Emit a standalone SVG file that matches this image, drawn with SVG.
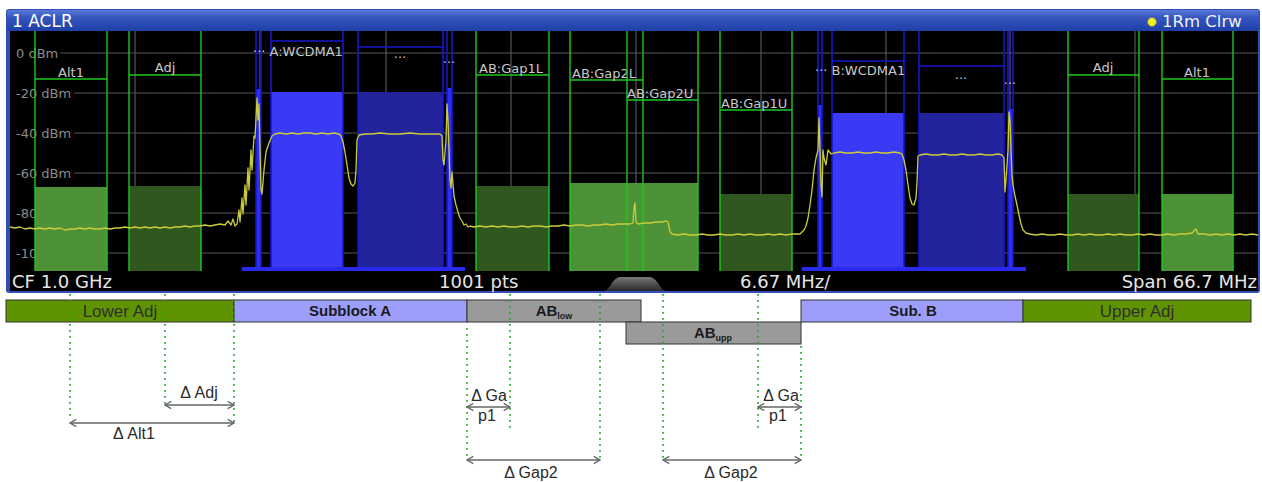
<svg xmlns="http://www.w3.org/2000/svg" width="1262" height="482" viewBox="0 0 1262 482">
<defs>
<linearGradient id="tb" x1="0" y1="0" x2="0" y2="1">
<stop offset="0" stop-color="#5a78d6"/><stop offset="0.35" stop-color="#3556c0"/><stop offset="1" stop-color="#1e3fa6"/>
</linearGradient>
<linearGradient id="hd" x1="0" y1="0" x2="0" y2="1">
<stop offset="0" stop-color="#777"/><stop offset="1" stop-color="#2a2a2a"/>
</linearGradient>
<marker id="ah" viewBox="0 0 10 10" refX="9" refY="5" markerWidth="9" markerHeight="9" orient="auto-start-reverse" markerUnits="userSpaceOnUse">
<path d="M2,1 L9,5 L2,9" fill="none" stroke="#666" stroke-width="1.5"/>
</marker>
<style>
.grid{stroke:#555;stroke-width:1.2}
.gl{stroke:#1ec81e;stroke-width:1.4;fill:none}
.bl{stroke:#1616d2;stroke-width:1.6}
.lf{fill:#4e9238}
.df{fill:#30571f}
.ax{font-family:"DejaVu Sans",sans-serif;font-size:13px;fill:#8c8c8c}
.lb{font-family:"DejaVu Sans",sans-serif;font-size:13px;fill:#c8c8c8}
.st{font-family:"DejaVu Sans",sans-serif;font-size:18px;fill:#e6e6e6}
.tr{fill:none;stroke:#cccc3a;stroke-width:1.3;stroke-linejoin:round}
.bar{stroke:#333;stroke-width:1}
.t{font-family:"Liberation Sans",Arial,sans-serif;font-size:16px;fill:#2a2a2a}
.tn{font-family:"Liberation Sans",Arial,sans-serif;font-size:17px;fill:#2f2f2f}
.tb{font-family:"Liberation Sans",Arial,sans-serif;font-size:15px;font-weight:bold;fill:#1a1a1a}
.dt{stroke:#22a822;stroke-width:1.7;stroke-dasharray:1.7 4.3;fill:none}
.ar{stroke:#666;stroke-width:1.6;fill:none;marker-start:url(#ah);marker-end:url(#ah)}
</style>
</defs>
<rect width="1262" height="482" fill="#ffffff"/>

<g id="screen">
<rect x="6" y="9" width="1254" height="284" rx="3" fill="#2f4fb6"/>
<rect x="7" y="10" width="1252" height="21" rx="2" fill="url(#tb)"/>
<rect x="10" y="31" width="1248" height="260" fill="#000"/>
<text x="12" y="27" font-family="DejaVu Sans, sans-serif" font-size="17" fill="#ffffff">1 ACLR</text>
<circle cx="1152" cy="22" r="4.5" fill="#f0f020" stroke="#777" stroke-width="1"/>
<text x="1162" y="27" font-family="DejaVu Sans, sans-serif" font-size="16.5" fill="#f0f0f0">1Rm Clrw</text>
</g>

<g id="grid">
<line class="grid" x1="60" y1="53" x2="1258" y2="53"/>
<line class="grid" x1="74" y1="93" x2="1258" y2="93"/>
<line class="grid" x1="74" y1="133" x2="1258" y2="133"/>
<line class="grid" x1="74" y1="173" x2="1258" y2="173"/>
<line class="grid" x1="74" y1="213" x2="1258" y2="213"/>
<line class="grid" x1="74" y1="253" x2="1258" y2="253"/>
<line class="grid" x1="135" y1="31" x2="135" y2="271"/>
<line class="grid" x1="260" y1="31" x2="260" y2="271"/>
<line class="grid" x1="386" y1="31" x2="386" y2="271"/>
<line class="grid" x1="511" y1="31" x2="511" y2="271"/>
<line class="grid" x1="636" y1="31" x2="636" y2="271"/>
<line class="grid" x1="761" y1="31" x2="761" y2="271"/>
<line class="grid" x1="886" y1="31" x2="886" y2="271"/>
<line class="grid" x1="1010" y1="31" x2="1010" y2="271"/>
<line class="grid" x1="1135" y1="31" x2="1135" y2="271"/>
<text class="ax" x="16" y="58">0 dBm</text>
<text class="ax" x="16" y="98">-20 dBm</text>
<text class="ax" x="16" y="138">-40 dBm</text>
<text class="ax" x="16" y="178">-60 dBm</text>
<text class="ax" x="16" y="218">-80 dBm</text>
<text class="ax" x="16" y="258">-100 dBm</text>
</g>

<g id="lower-alt1">
<rect class="lf" x="35" y="187" width="72" height="84"/>
<path class="gl" d="M35,31 V271 M107,31 V271 M35,79 H107"/>
<text class="lb" x="71" y="77" text-anchor="middle">Alt1</text>
</g>
<g id="lower-adj">
<rect class="df" x="129" y="186" width="72" height="85"/>
<path class="gl" d="M129,31 V271 M201,31 V271 M129,75 H201"/>
<text class="lb" x="165" y="72" text-anchor="middle">Adj</text>
</g>
<g id="gap1l">
<rect class="df" x="476" y="186" width="73" height="85"/>
<path class="gl" d="M476,31 V271 M549,31 V271 M476,75 H549"/>
<text class="lb" x="479" y="73">AB:Gap1L</text>
</g>
<g id="gap2l">
<rect class="lf" x="570" y="183" width="128" height="88"/>
<path class="gl" d="M570,31 V271 M643,31 V271 M570,80 H643"/>
<text class="lb" x="572" y="78">AB:Gap2L</text>
</g>
<g id="gap2u">
<path class="gl" d="M627,31 V271 M698,31 V271 M627,100 H698"/>
<text class="lb" x="627" y="98">AB:Gap2U</text>
</g>
<g id="gap1u">
<rect class="df" x="720" y="194" width="72" height="77"/>
<path class="gl" d="M720,31 V271 M792,31 V271 M720,110 H792"/>
<text class="lb" x="721" y="108">AB:Gap1U</text>
</g>
<g id="upper-adj">
<rect class="df" x="1068" y="194" width="71" height="77"/>
<path class="gl" d="M1068,31 V271 M1139,31 V271 M1068,75 H1139"/>
<text class="lb" x="1103" y="72" text-anchor="middle">Adj</text>
</g>
<g id="upper-alt1">
<rect class="lf" x="1162" y="194" width="71" height="77"/>
<path class="gl" d="M1162,31 V271 M1233,31 V271 M1162,79 H1233"/>
<text class="lb" x="1197" y="77" text-anchor="middle">Alt1</text>
</g>

<g id="subblock-a-spectrum">
<rect x="271" y="92" width="72" height="177" fill="#3a3af4"/>
<rect x="358" y="92" width="85" height="177" fill="#23239c"/>
<rect x="256" y="89" width="5" height="180" fill="#2f2ff0"/>
<rect x="447" y="88" width="5" height="181" fill="#2f2ff0"/>
<path class="bl" d="M256,31 V269 M261,31 V269 M271,31 V269 M343,31 V269 M358,31 V269 M443,31 V269 M447,31 V269 M452,31 V269 M271,41 H343 M358,47 H443"/>
<rect x="242" y="267" width="223" height="4" fill="#2a2aee"/>
<text class="lb" x="253" y="56">··· A:WCDMA1</text>
<text class="lb" x="400" y="62" text-anchor="middle">···</text>
<text class="lb" x="449" y="67" text-anchor="middle">···</text>
</g>

<g id="subblock-b-spectrum">
<rect x="832" y="113" width="72" height="156" fill="#3a3af4"/>
<rect x="919" y="113" width="85" height="156" fill="#23239c"/>
<rect x="818" y="105" width="4" height="164" fill="#2f2ff0"/>
<rect x="1008" y="109" width="5" height="160" fill="#2f2ff0"/>
<path class="bl" d="M818,31 V269 M822,31 V269 M832,31 V269 M904,31 V269 M919,31 V269 M1004,31 V269 M1008,31 V269 M1013,31 V269 M832,61 H904 M919,66 H1004"/>
<rect x="802" y="267" width="224" height="4" fill="#2a2aee"/>
<text class="lb" x="815" y="75">··· B:WCDMA1</text>
<text class="lb" x="961" y="83" text-anchor="middle">···</text>
<text class="lb" x="1010" y="88" text-anchor="middle">···</text>
</g>

<g id="trace">
<path class="tr" d="M10,227 L15,228 20,227 25,229 30,228 35,229 40,228 45,229 50,228 55,229 60,228 65,230 70,229 75,229 80,228 85,229 90,228 95,229 100,229 105,228 110,229 115,228 120,228 125,227 130,228 135,227 140,228 145,227 150,228 155,227 160,228 165,227 170,228 175,227 180,227 185,226 190,227 195,226 200,226 205,225 210,226 215,225 220,224 225,225 228,221 231,225 233,219 235,226 237,224 239,210 240,222 242,198 243,214 245,185 246,205 248,168 249,190 251,150 252,170 254,136 255,138 256,118 257,98 258,120 259,104 260,150 261,190 262,194 264,170 266,152 269,143 272,136 275,134 280,133 286,134 292,133 298,134 304,133 310,133 316,134 322,133 328,134 334,133 339,134 341,136 343,142 345,152 347,165 349,178 351,184 353,186 355,183 356,170 357,140 359,135 365,134 372,134 380,133 390,134 400,134 410,133 420,134 430,134 440,134 442,136 443,160 444,165 446,140 447,104 448,120 449,150 450,180 451,188 452,172 454,196 456,205 458,212 460,218 462,221 464,225 466,224 468,227 470,226 474,227 480,226 486,227 492,226 498,227 504,226 510,227 516,227 522,226 528,227 534,226 540,226 546,227 552,226 558,226 564,225 570,226 576,225 582,225 588,226 594,225 600,225 606,224 612,225 618,224 624,224 630,224 633,223 634,208 635,203 636,222 638,224 644,223 650,223 656,222 662,222 666,221 668,222 670,232 672,234 678,235 684,234 690,235 696,235 702,234 708,235 714,235 720,234 726,235 732,235 738,234 744,235 750,234 756,235 762,235 768,234 774,235 780,234 786,235 792,234 798,234 800,234 802,232 804,230 806,226 808,218 810,205 812,190 814,170 816,158 818,150 819,118 820,150 821,185 822,197 823,150 824,158 826,165 828,150 831,154 834,153 840,152 846,153 852,153 858,152 864,153 870,153 876,152 882,153 888,153 894,152 900,153 902,154 904,160 906,170 908,185 910,198 912,204 914,205 916,198 917,182 918,156 920,155 926,154 932,155 938,155 944,154 950,155 956,155 962,154 968,155 974,155 980,154 986,155 992,155 998,154 1002,155 1004,158 1005,192 1006,180 1008,150 1009,112 1010,120 1011,150 1012,175 1013,185 1015,196 1017,205 1019,215 1021,224 1023,230 1026,233 1030,234 1036,235 1042,234 1048,235 1054,235 1060,234 1066,235 1072,235 1078,234 1084,235 1090,234 1096,235 1102,235 1108,234 1114,235 1120,234 1126,235 1132,235 1138,234 1144,235 1150,234 1156,235 1162,235 1168,234 1174,235 1180,234 1186,234 1192,233 1196,229 1198,234 1204,234 1210,235 1216,234 1222,235 1228,234 1234,235 1240,234 1246,235 1252,234 1258,235"/>
</g>

<g id="status-bar">
<rect x="10" y="271" width="1248" height="20" fill="#000"/>
<path d="M603,291 C610,291 612,278 620,277 L650,277 C658,278 660,291 667,291 Z" fill="url(#hd)"/>
<text class="st" x="12" y="288">CF 1.0 GHz</text>
<text class="st" x="439" y="288">1001 pts</text>
<text class="st" x="740" y="288">6.67 MHz/</text>
<text class="st" x="1257" y="288" text-anchor="end">Span 66.7 MHz</text>
</g>

<g id="bar-lower-adj">
<rect class="bar" x="6" y="300" width="228" height="22" fill="#5f9400"/>
<text class="tn" x="120" y="317" text-anchor="middle">Lower Adj</text>
</g>
<g id="bar-subblock-a">
<rect class="bar" x="234" y="300" width="233" height="22" fill="#9d9dfa"/>
<text class="tb" x="350" y="316" text-anchor="middle">Subblock A</text>
</g>
<g id="bar-ab-low">
<rect class="bar" x="467" y="300" width="174" height="22" fill="#9a9a9a"/>
<text class="tb" x="554" y="316" text-anchor="middle">AB<tspan font-size="9" dy="3">low</tspan></text>
</g>
<g id="bar-ab-upp">
<rect class="bar" x="626" y="322" width="175" height="22" fill="#9a9a9a"/>
<text class="tb" x="713" y="338" text-anchor="middle">AB<tspan font-size="9" dy="3">upp</tspan></text>
</g>
<g id="bar-sub-b">
<rect class="bar" x="801" y="300" width="222" height="22" fill="#9d9dfa"/>
<text class="tb" x="913" y="316" text-anchor="middle">Sub. B</text>
</g>
<g id="bar-upper-adj">
<rect class="bar" x="1023" y="300" width="228" height="22" fill="#5f9400"/>
<text class="tn" x="1137" y="317" text-anchor="middle">Upper Adj</text>
</g>

<g id="connectors">
<path class="dt" d="M70,294 V418 M165,294 V405 M234,294 V423 M467,328 V460 M510,294 V432 M600,294 V460 M663,294 V460 M758,294 V432 M801,346 V460"/>
<line class="ar" x1="165" y1="405" x2="234" y2="405"/>
<line class="ar" x1="70" y1="423" x2="234" y2="423"/>
<line class="ar" x1="467" y1="407" x2="510" y2="407"/>
<line class="ar" x1="467" y1="460" x2="600" y2="460"/>
<line class="ar" x1="758" y1="407" x2="801" y2="407"/>
<line class="ar" x1="663" y1="460" x2="801" y2="460"/>
</g>

<g id="dimension-labels">
<text class="t" x="199" y="398" text-anchor="middle">Δ Adj</text>
<text class="t" x="134" y="439" text-anchor="middle">Δ Alt1</text>
<text class="t" x="489" y="401" text-anchor="middle">Δ Ga</text>
<text class="t" x="487" y="421" text-anchor="middle">p1</text>
<text class="t" x="531" y="478" text-anchor="middle">Δ Gap2</text>
<text class="t" x="781" y="401" text-anchor="middle">Δ Ga</text>
<text class="t" x="778" y="421" text-anchor="middle">p1</text>
<text class="t" x="731" y="478" text-anchor="middle">Δ Gap2</text>
</g>
</svg>
